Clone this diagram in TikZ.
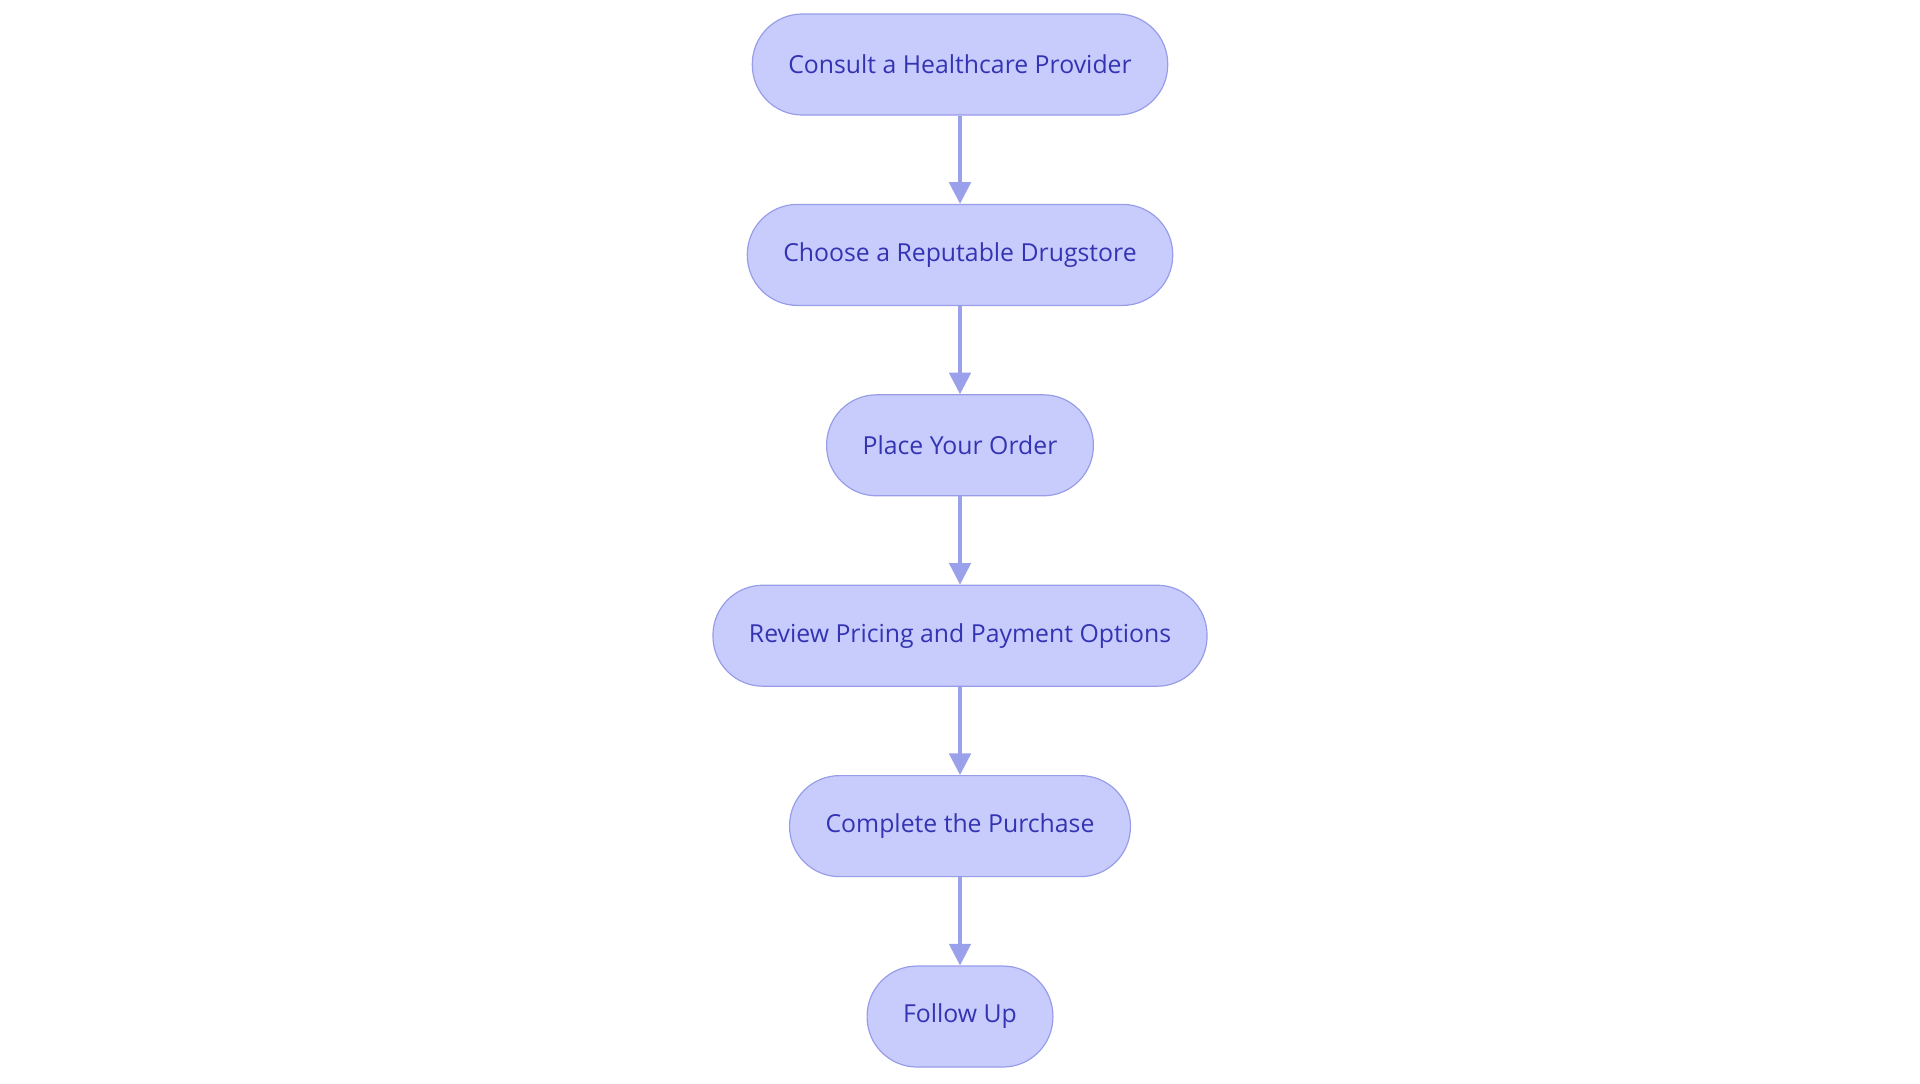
\documentclass[tikz,border=0pt]{standalone}
\usepackage{fontspec}
\setmainfont{Open Sans}
\usetikzlibrary{positioning,arrows.meta}
\definecolor{boxfill}{RGB}{200,204,253}
\definecolor{boxline}{RGB}{152,157,232}
\definecolor{boxtext}{RGB}{52,52,178}
\definecolor{arrowline}{RGB}{155,160,235}
\begin{document}
\begin{tikzpicture}
  \tikzset{stage/.style={draw=boxline,fill=boxfill,text=boxtext,line width=0.6pt,
      rounded corners=25pt,minimum height=50.5pt,inner xsep=18pt,font=\fontsize{12.4}{14}\selectfont},
    flow/.style={draw=arrowline,line width=1.6pt,-{Triangle[width=10.8pt,length=10.8pt]}}}
  \useasboundingbox (0,0) rectangle (960pt,-541.5pt);
  \node [stage] (consult) at (480pt,-32.25pt) {Consult a Healthcare Provider};
  \node [stage,below=44.1pt of consult] (choose) {Choose a Reputable Drugstore};
  \node [stage,below=44.1pt of choose] (order) {Place Your Order};
  \node [stage,below=44.1pt of order] (review) {Review Pricing and Payment Options};
  \node [stage,below=44.1pt of review] (complete) {Complete the Purchase};
  \node [stage,below=44.1pt of complete] (follow) {Follow Up};
  \draw [flow] (consult) -- (choose);
  \draw [flow] (choose) -- (order);
  \draw [flow] (order) -- (review);
  \draw [flow] (review) -- (complete);
  \draw [flow] (complete) -- (follow);
\end{tikzpicture}
\end{document}
